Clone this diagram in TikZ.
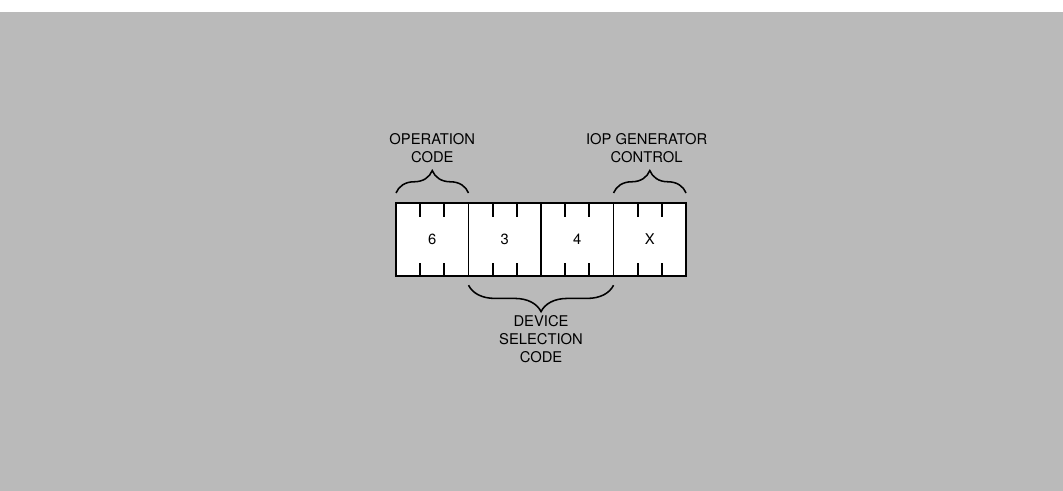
\documentclass[tikz,border=0pt]{standalone}
\usepackage{fontspec}
\setmainfont{TeX Gyre Heros}
\definecolor{scangray}{RGB}{186,186,186}
\usetikzlibrary{positioning,calc,decorations.pathreplacing,backgrounds}

\begin{document}
\begin{tikzpicture}[x=0.025cm,y=-0.025cm,
    cellbox/.style={draw,line width=1.3pt,minimum width=1.8125cm,
      minimum height=1.825cm,inner sep=0pt,outer sep=0pt,
      font=\fontsize{10.5}{13}\selectfont},
    fieldlabel/.style={align=center,inner sep=0pt,
      font=\fontsize{10.5}{13}\selectfont},
    tick/.style={line width=1.3pt},
    brace/.style={decorate,line width=1.1pt,
      decoration={brace,amplitude=0.56cm}}]
  \useasboundingbox (0,0) rectangle (1063,491);

  % the instruction word, one octal digit per field
  \node[cellbox] (cell6) at (432.25,239.5) {6};
  \node[cellbox,right=0pt of cell6] (cell3) {3};
  \node[cellbox,right=0pt of cell3] (cell4) {4};
  \node[cellbox,right=0pt of cell4] (cellx) {X};

  % scanned halftone page and white word
  \begin{scope}[on background layer]
    \fill[scangray] (0,12) rectangle (1063,491);
    \fill[white] (cell6.north west) rectangle (cellx.south east);
  \end{scope}

  % bit ticks, three bits per digit
  \foreach \c in {cell6,cell3,cell4,cellx}
    \foreach \f in {0.3333,0.6667} {
      \draw[tick] ($(\c.north west)!\f!(\c.north east)$) -- ++(0,14);
      \draw[tick] ($(\c.south west)!\f!(\c.south east)$) -- ++(0,-13);
    }

  % braces and field names
  \draw[brace] ([yshift=0.25cm]cell6.north west) -- ([yshift=0.25cm]cell6.north east);
  \draw[brace] ([yshift=0.25cm]cellx.north west) -- ([yshift=0.25cm]cellx.north east);
  \draw[brace,decoration={amplitude=0.66cm}]
    ([yshift=-0.23cm]cell4.south east) -- ([yshift=-0.23cm]cell3.south west);

  \node[fieldlabel,above=1cm of cell6] (opcode) {OPERATION\\CODE};
  \node[fieldlabel,above=1cm of cellx,xshift=-0.08cm] (iopctl) {IOP GENERATOR\\CONTROL};
  \node[fieldlabel,below=0.97cm of cell3.south east] (devcode) {DEVICE\\SELECTION\\CODE};
\end{tikzpicture}
\end{document}
